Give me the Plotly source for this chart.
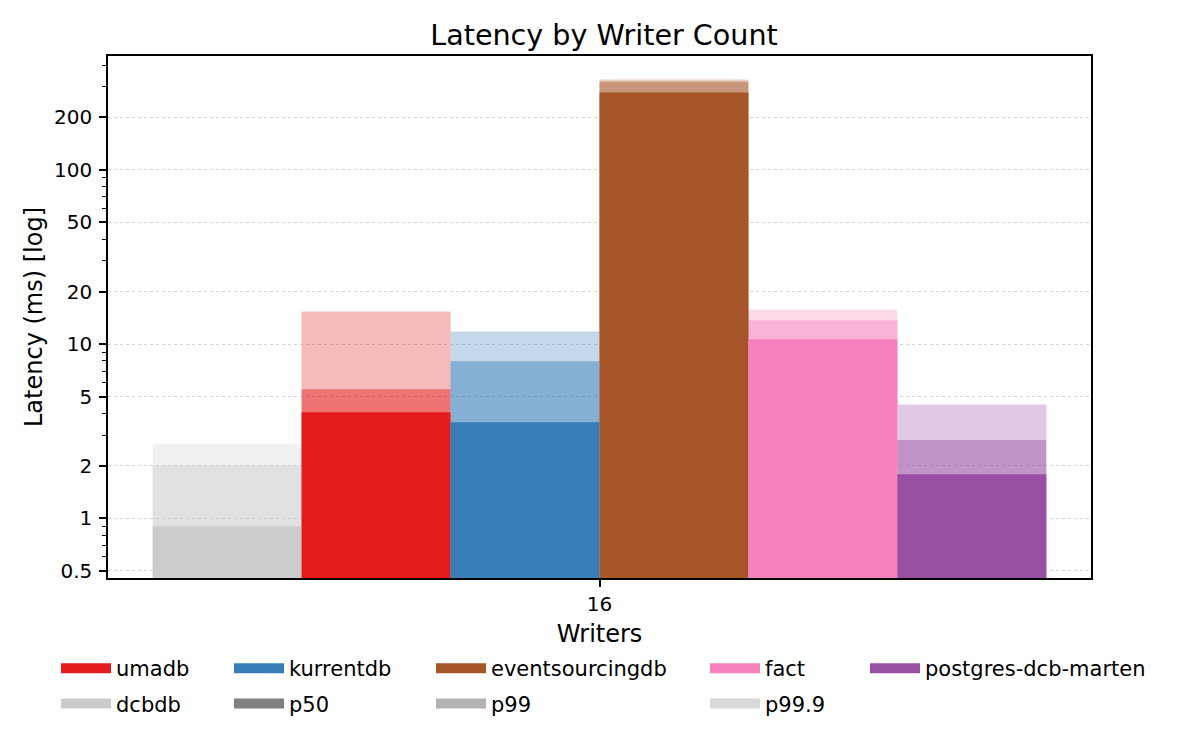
import plotly.graph_objects as go

# values (ms), one group at writers = 16
writers = ["16"]
databases = ["dcbdb", "umadb", "kurrentdb", "eventsourcingdb", "fact", "postgres-dcb-marten"]
p50 = [0.90, 4.06, 3.56, 278, 10.65, 1.79]
p99 = [2.0, 5.5, 7.96, 321, 13.7, 2.81]
p999 = [2.66, 15.4, 11.8, 330, 15.8, 4.5]

colors = {
    "dcbdb": "#cccccc",
    "umadb": "#e41a1c",
    "kurrentdb": "#377eb8",
    "eventsourcingdb": "#a65628",
    "fact": "#f781bf",
    "postgres-dcb-marten": "#984ea3",
}

major_ticks = [0.5, 1, 2, 5, 10, 20, 50, 100, 200]

FONT = "DejaVu Sans"
# the page body adds an 8px margin, so the figure is drawn a bit smaller
W, H = 1192, 742
L, R, T, B = 100, 109, 48, 172
n = len(databases)
group = 0.8
w = group / n

fig = go.Figure()

# p99.9 drawn first (faintest), then p99, then p50 on top
for vals, op in [(p999, 0.3), (p99, 0.44), (p50, 1.0)]:
    for i, db in enumerate(databases):
        fig.add_trace(go.Bar(
            x=writers, y=[vals[i]],
            width=w, offset=-group / 2 + i * w,
            marker=dict(color=colors[db], line=dict(width=0)),
            opacity=op, showlegend=False, name=db,
        ))

# legend proxies laid out as 5 columns x 2 rows like the original
legend_cols = [
    [("umadb", colors["umadb"], 1.0), ("dcbdb", colors["dcbdb"], 1.0)],
    [("kurrentdb", colors["kurrentdb"], 1.0), ("p50", "#808080", 1.0)],
    [("eventsourcingdb", colors["eventsourcingdb"], 1.0), ("p99", "#808080", 0.6)],
    [("fact", colors["fact"], 1.0), ("p99.9", "#808080", 0.3)],
    [("postgres-dcb-marten", colors["postgres-dcb-marten"], 1.0)],
]
text_x = [116, 289, 491, 765, 925]
item_w = 50

legend_layout = {}
for c, items in enumerate(legend_cols):
    key = "legend" if c == 0 else f"legend{c + 1}"
    for label, col, op in items:
        fig.add_trace(go.Scatter(
            x=[0], y=[0], mode="lines", name=label,
            line=dict(color=col, width=10), opacity=op,
            legend=key, legendgroup=label,
            xaxis="x2", yaxis="y2", hoverinfo="skip",
        ))
    legend_layout[key] = dict(
        x=(text_x[c] - 8 - (item_w + 10)) / W, y=1 - 640 / H,
        xref="container", yref="container",
        xanchor="left", yanchor="top", orientation="v",
        itemwidth=item_w,
        font=dict(family=FONT, size=21, color="black"),
        bgcolor="rgba(0,0,0,0)", tracegroupgap=5,
    )

fig.update_layout(
    width=W, height=H,
    barmode="overlay",
    plot_bgcolor="white", paper_bgcolor="white",
    font=dict(family=FONT, color="black"),
    margin=dict(l=L, r=R, t=T, b=B, autoexpand=False),
    title=dict(text="Latency by Writer Count", x=0.5, xanchor="center",
               y=1 - 27 / H, yanchor="middle", font=dict(size=28.6, family=FONT)),
    xaxis2=dict(visible=False, overlaying="x", range=[-1, 1]),
    yaxis2=dict(visible=False, overlaying="y", range=[-1, 1]),
    **legend_layout,
)

fig.update_layout(xaxis=dict(
    type="category", range=[-0.44, 0.44],
    showgrid=False, zeroline=False,
    showline=True, linecolor="black", linewidth=1.5, mirror=True,
    ticks="outside", ticklen=7, tickwidth=1.5, tickcolor="black",
    tickfont=dict(size=20, family=FONT),
    title=dict(text="Writers", font=dict(size=24, family=FONT), standoff=10),
))

fig.update_layout(yaxis=dict(
    type="log", range=[-0.343, 2.654],
    tickmode="array", tickvals=major_ticks, ticktext=[f"{v:g}" for v in major_ticks],
    showgrid=True, gridcolor="#d3d3d3", griddash="dot", gridwidth=1,
    zeroline=False,
    showline=True, linecolor="black", linewidth=1.5, mirror=True,
    ticks="outside", ticklen=7, tickwidth=1.5, tickcolor="black",
    ticklabelstandoff=3,
    tickfont=dict(size=20, family=FONT),
    minor=dict(dtick="D1", ticks="outside", ticklen=4, tickwidth=1.2,
               tickcolor="black", showgrid=False),
))

# y axis title as a rotated annotation (the axis title was misplaced here)
fig.add_annotation(
    text="Latency (ms) [log]", textangle=-90,
    xref="paper", yref="paper", x=(34 - 8 - L) / (W - L - R), y=0.5,
    xanchor="center", yanchor="middle", showarrow=False,
    font=dict(size=24, family=FONT, color="black"),
)

fig.write_html("out.html")
